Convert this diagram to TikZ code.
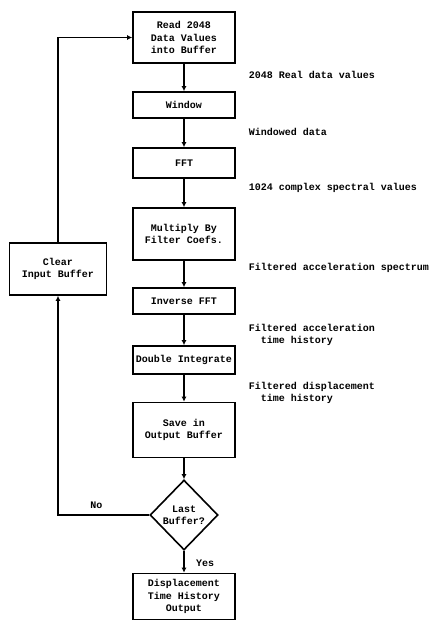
\documentclass[tikz,border=0pt]{standalone}
\usepackage{fontspec}
\setmainfont{Liberation Mono}
\usetikzlibrary{shapes.geometric,arrows.meta}
\begin{document}
\begin{tikzpicture}[x=1pt, y=-1pt, line width=1.6pt,
  every node/.style={font=\fontsize{10}{12.5}\selectfont\bfseries},
  box/.style={draw, rectangle, align=center, inner sep=0pt, minimum width=102pt},
  decision/.style={draw, diamond, align=center, inner sep=0pt, minimum width=68pt, minimum height=70pt},
  note/.style={anchor=west, align=left, inner sep=0pt},
  flow/.style={-{Latex[length=5pt,width=5pt]}}]
\useasboundingbox (0,0) rectangle (432,621);
\node[box, minimum height=51pt] (read) at (184,37.5){Read 2048\\Data Values\\into Buffer};
\node[box, minimum height=26pt] (window) at (184,105){Window};
\node[box, minimum height=30pt] (fft) at (184,163){FFT};
\node[box, minimum height=52pt] (mult) at (184,234){Multiply By\\Filter  Coefs.};
\node[box, minimum height=26pt] (ifft) at (184,301){Inverse FFT};
\node[box, minimum height=28pt] (dint) at (184,360){Double Integrate};
\node[box, minimum height=55pt] (save) at (184,430){Save in\\Output Buffer};
\node[decision] (last) at (184,515){Last\\Buffer?};
\node[box, minimum height=46pt] (out) at (184,596.5){Displacement\\Time History\\Output};
\node[box, minimum width=97pt, minimum height=52pt] (clear) at (58,269){Clear\\Input Buffer};
\draw[flow](read) -- (window);
\draw[flow](window) -- (fft);
\draw[flow](fft) -- (mult);
\draw[flow](mult) -- (ifft);
\draw[flow](ifft) -- (dint);
\draw[flow](dint) -- (save);
\draw[flow](save) -- (last);
\draw[flow](last) -- node[right, xshift=8pt, yshift=-1pt]{Yes} (out);
\draw[flow](last.west) -| node[pos=0.29, above, yshift=2pt]{No} (clear.south);
\draw[flow](clear.north) |- (read.west);
\node[note] (lbl1) at (248,75){2048 Real data values};
\node[note] (lbl2) at (248,132){Windowed data};
\node[note] (lbl3) at (248,188){1024 complex spectral values};
\node[note] (lbl4) at (248,268){Filtered acceleration spectrum};
\node[note] (lbl5) at (248,335){Filtered acceleration\\\hspace*{1.2em}time history};
\node[note] (lbl6) at (248,393){Filtered displacement\\\hspace*{1.2em}time history};
\end{tikzpicture}
\end{document}
